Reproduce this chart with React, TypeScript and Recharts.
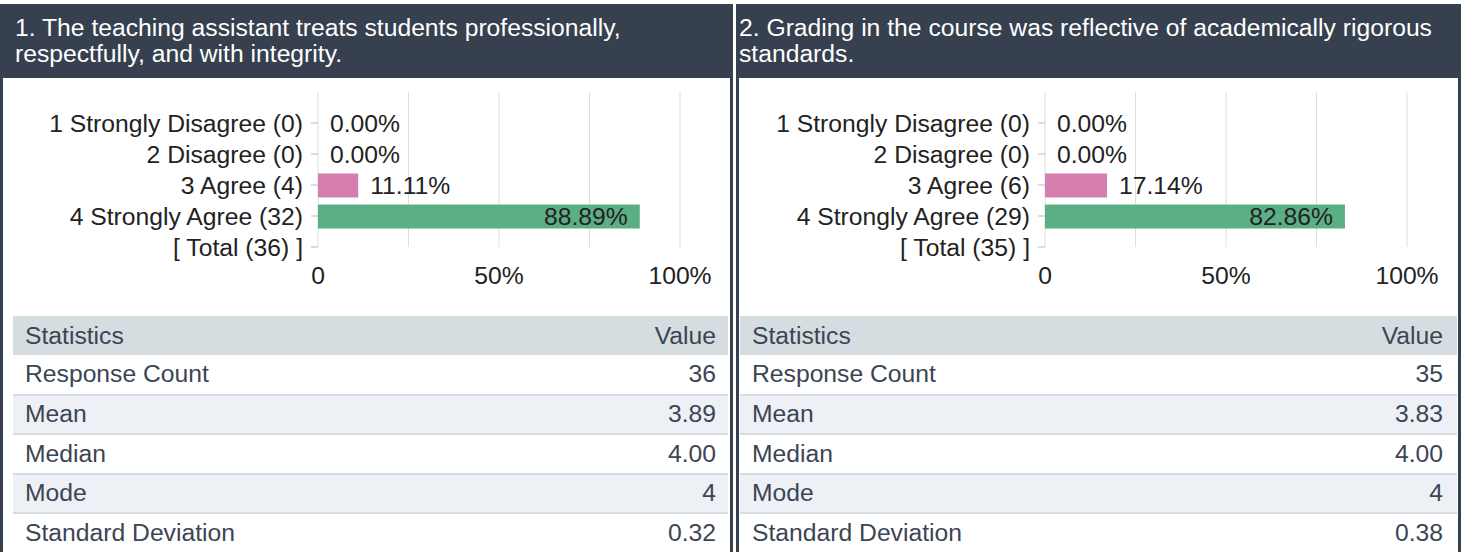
import React from "react";
import { BarChart, Bar, XAxis, YAxis, CartesianGrid, LabelList, Cell } from "recharts";

const FONT = '"Liberation Sans", Arial, sans-serif';
const FS = 24.7;

// question 1
const title1 = ["1. The teaching assistant treats students professionally,", "respectfully, and with integrity."];
const categories1 = ["1 Strongly Disagree (0)", "2 Disagree (0)", "3 Agree (4)", "4 Strongly Agree (32)", "[ Total (36) ]"];
const percents1 = [0, 0, 11.11, 88.89];
const statValues1 = ["36", "3.89", "4.00", "4", "0.32"];

// question 2
const title2 = ["2. Grading in the course was reflective of academically rigorous", "standards."];
const categories2 = ["1 Strongly Disagree (0)", "2 Disagree (0)", "3 Agree (6)", "4 Strongly Agree (29)", "[ Total (35) ]"];
const percents2 = [0, 0, 17.14, 82.86];
const statValues2 = ["35", "3.83", "4.00", "4", "0.38"];

const barColors = ["#d67fae", "#d67fae", "#d67fae", "#5caf84"];
const valueTicks = [0, 25, 50, 75, 100];
const valueTickLabels = ["0", "", "50%", "", "100%"];
const statLabels = ["Response Count", "Mean", "Median", "Mode", "Standard Deviation"];

const DARK = "#36404e";
const TEXT = "#3b4553";

function renderLabel(props: any) {
  const { x, y, width, height, value } = props;
  if (value == null) return null;
  const inside = value > 50;
  return (
    <text
      x={inside ? x + width - 12 : x + width + 12}
      y={y + height / 2}
      textAnchor={inside ? "end" : "start"}
      dominantBaseline="central"
      fontSize={FS}
      fontFamily={FONT}
      fill="#222"
    >
      {value.toFixed(2) + "%"}
    </text>
  );
}

function SurveyChart({ categories, percents }: { categories: string[]; percents: number[] }) {
  const rows = categories.map((name, i) => ({
    pos: i + 1,
    name,
    pct: i < percents.length ? percents[i] : null,
  }));

  return (
    <BarChart
      width={730}
      height={210}
      data={rows}
      layout="vertical"
      margin={{ top: 12, right: 50, bottom: 0, left: 0 }}
    >
      <CartesianGrid horizontal={false} stroke="#dedede" />
      <XAxis
        type="number"
        dataKey="pct"
        domain={[0, 100]}
        ticks={valueTicks}
        interval={0}
        tickFormatter={(v: number) => valueTickLabels[valueTicks.indexOf(v)]}
        axisLine={false}
        tickLine={false}
        tickSize={6}
        tickMargin={13}
        height={43}
        tick={{ fontSize: FS, fill: "#222", fontFamily: FONT }}
      />
      <YAxis
        type="number"
        dataKey="pos"
        domain={[0, 5]}
        ticks={[1, 2, 3, 4, 5]}
        interval={0}
        width={318}
        tickFormatter={(v: number) => categories[v - 1]}
        axisLine={false}
        tickLine={{ stroke: "#bbbbbb" }}
        tickSize={7}
        tickMargin={8}
        tick={{ fontSize: FS, fill: "#222", fontFamily: FONT }}
      />
      <Bar dataKey="pct" barSize={24} minPointSize={0.01} isAnimationActive={false}>
        {rows.map((r, i) => (
          <Cell key={r.name} fill={barColors[i % barColors.length]} />
        ))}
        <LabelList dataKey="pct" content={renderLabel} />
      </Bar>
    </BarChart>
  );
}

function StatsTable({ values, left, width, padRight }: { values: string[]; left: number; width: number; padRight: number }) {
  const cell: React.CSSProperties = {
    display: "flex",
    alignItems: "center",
    justifyContent: "space-between",
    paddingLeft: 12,
    paddingRight: padRight,
    boxSizing: "border-box",
    color: TEXT,
    fontSize: FS,
  };
  return (
    <div style={{ position: "absolute", left, top: 316, width }}>
      <div style={{ ...cell, height: 39, background: "#d6dde1" }}>
        <span>Statistics</span>
        <span>Value</span>
      </div>
      {statLabels.map((label, i) => (
        <div
          key={label}
          style={{
            ...cell,
            height: i === 0 ? 38.5 : 39.5,
            background: i % 2 === 0 ? "#ffffff" : "#edf1f5",
            borderTop: i === 0 ? "none" : "2px solid #d6dde1",
          }}
        >
          <span>{label}</span>
          <span>{values[i]}</span>
        </div>
      ))}
    </div>
  );
}

function Panel({
  left,
  width,
  titleLines,
  titleInset,
  chartLeft,
  categories,
  percents,
  values,
  tableLeft,
  tableWidth,
  padRight,
}: any) {
  return (
    <>
      <div
        style={{
          position: "absolute",
          left,
          top: 4,
          width,
          height: 74,
          background: DARK,
          color: "#ffffff",
          fontSize: FS,
          lineHeight: "26px",
          boxSizing: "border-box",
          paddingTop: 11,
          paddingLeft: titleInset,
          whiteSpace: "nowrap",
        }}
      >
        {titleLines[0]}
        <br />
        {titleLines[1]}
      </div>
      <div style={{ position: "absolute", left, top: 78, width: 3, height: 474, background: DARK }} />
      <div style={{ position: "absolute", left: left + width - 3, top: 78, width: 3, height: 474, background: DARK }} />
      <div style={{ position: "absolute", left: chartLeft, top: 80 }}>
        <SurveyChart categories={categories} percents={percents} />
      </div>
      <StatsTable values={values} left={tableLeft} width={tableWidth} padRight={padRight} />
    </>
  );
}

export default function App() {
  return (
    <div
      style={{
        position: "absolute",
        left: 0,
        top: 0,
        width: 1467,
        height: 552,
        background: "#ffffff",
        fontFamily: FONT,
        overflow: "hidden",
      }}
    >
      <Panel
        left={0}
        width={733}
        titleLines={title1}
        titleInset={15}
        chartLeft={0}
        categories={categories1}
        percents={percents1}
        values={statValues1}
        tableLeft={13}
        tableWidth={715}
        padRight={12}
      />
      <Panel
        left={736}
        width={725}
        titleLines={title2}
        titleInset={3}
        chartLeft={727}
        categories={categories2}
        percents={percents2}
        values={statValues2}
        tableLeft={740}
        tableWidth={717}
        padRight={14}
      />
    </div>
  );
}
